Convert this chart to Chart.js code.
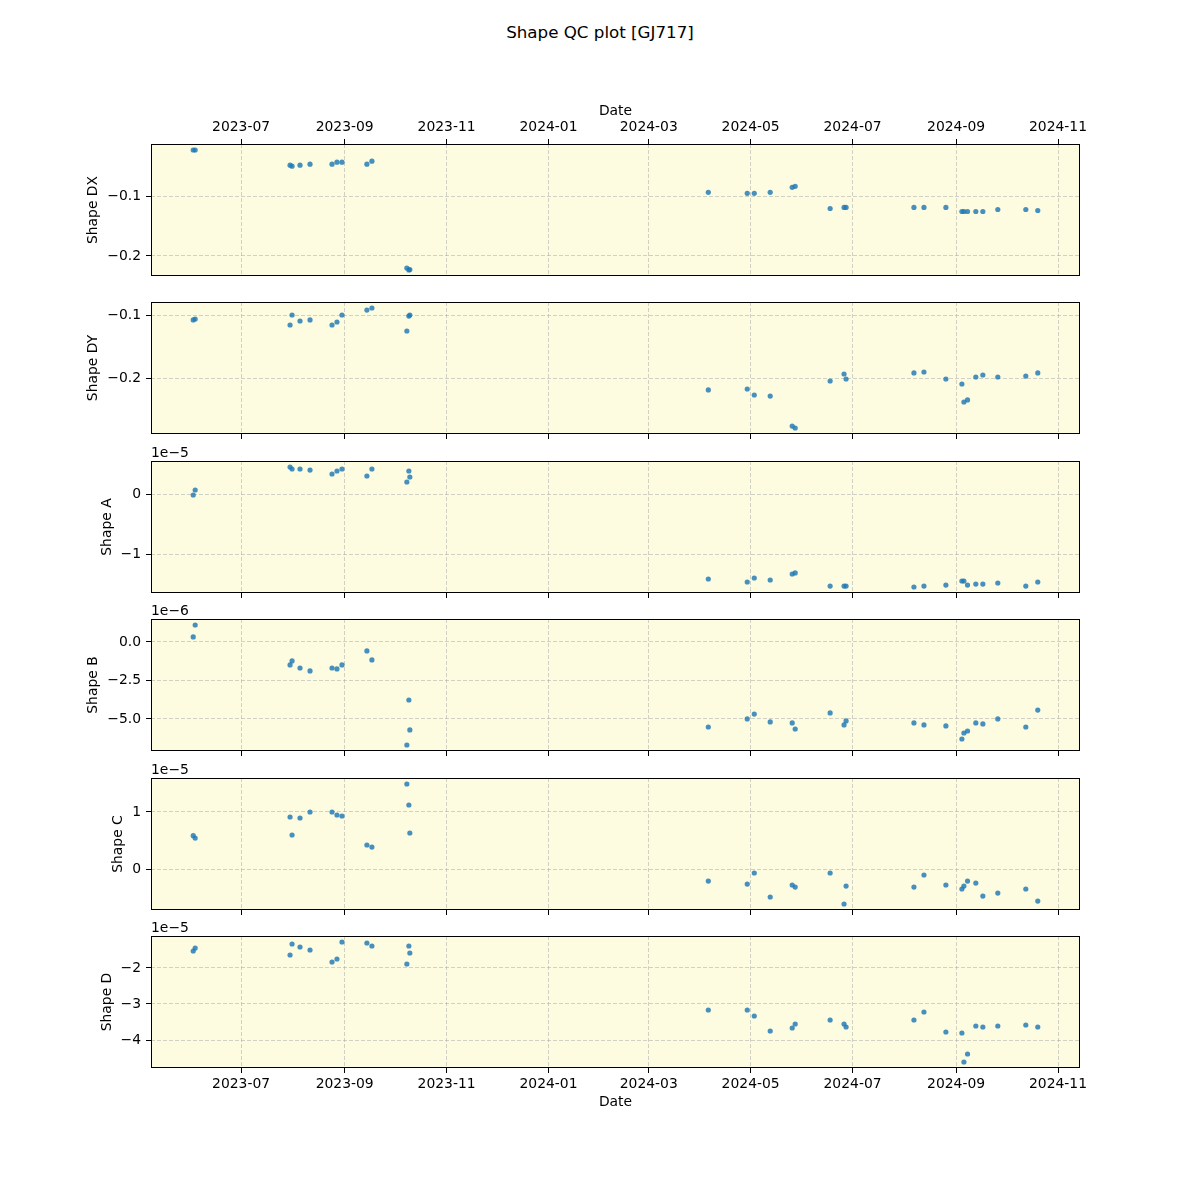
<!DOCTYPE html>
<html>
<head>
<meta charset="utf-8">
<script src="https://cdn.jsdelivr.net/npm/chart.js@4.4.1/dist/chart.umd.min.js"></script>
<style>
  body { margin: 0; background: #fff; }
  #fig { position: relative; width: 1200px; height: 1200px; font-family: 'DejaVu Sans', sans-serif; }
  #title { position: absolute; top: 22px; left: 0; width: 1200px; text-align: center; font-size: 16.7px; color: #000; }
  #fig canvas { position: absolute; left: 0; }
</style>
</head>
<body>
<div id="fig"><div id="title">Shape QC plot [GJ717]</div></div>
<script>
'use strict';

// ── Data ──────────────────────────────────────────────────────
const obsDates = [
  '2023-06-02T08:00', '2023-06-03T12:00', '2023-07-30T07:00', '2023-07-31T12:00',
  '2023-08-05T06:00', '2023-08-11T06:00', '2023-08-24T10:00', '2023-08-27T09:00',
  '2023-08-30T09:00', '2023-09-14T07:00', '2023-09-17T07:00', '2023-10-08T05:00',
  '2023-10-09T10:00', '2023-10-10T00:00',
  '2024-04-05T16:00', '2024-04-28T23:00', '2024-05-03T04:00', '2024-05-12T17:00',
  '2024-05-25T21:00', '2024-05-27T16:00', '2024-06-17T14:00', '2024-06-25T22:00',
  '2024-06-27T03:00', '2024-08-06T18:00', '2024-08-12T18:00', '2024-08-25T21:00',
  '2024-09-04T11:00', '2024-09-05T16:00', '2024-09-07T20:00', '2024-09-12T19:00',
  '2024-09-17T00:00', '2024-09-25T23:00', '2024-10-12T17:00', '2024-10-19T21:00',
];

const shapeDX = [
  -0.0220, -0.0220, -0.0475, -0.0492, -0.0475, -0.0458, -0.0458, -0.0424,
  -0.0424, -0.0458, -0.0407, -0.2203, -0.2237, -0.2230,
  -0.0932, -0.0949, -0.0949, -0.0932, -0.0847, -0.0831, -0.1203, -0.1186,
  -0.1186, -0.1186, -0.1186, -0.1186, -0.1254, -0.1254, -0.1254, -0.1254,
  -0.1254, -0.1220, -0.1220, -0.1237,
];

const shapeDY = [
  -0.1078, -0.1063, -0.1157, -0.1000, -0.1094, -0.1078, -0.1157, -0.1110,
  -0.1000, -0.0922, -0.0890, -0.1251, -0.1016, -0.1000,
  -0.2177, -0.2162, -0.2256, -0.2272, -0.2743, -0.2774, -0.2036, -0.1926,
  -0.2005, -0.1910, -0.1895, -0.2005, -0.2083, -0.2366, -0.2334, -0.1973,
  -0.1942, -0.1973, -0.1958, -0.1910,
];

const shapeA = [
  -0.016e-5, 0.066e-5, 0.445e-5, 0.412e-5, 0.412e-5, 0.395e-5, 0.330e-5, 0.379e-5,
  0.412e-5, 0.297e-5, 0.412e-5, 0.198e-5, 0.379e-5, 0.280e-5,
  -1.400e-5, -1.450e-5, -1.384e-5, -1.417e-5, -1.318e-5, -1.300e-5, -1.516e-5, -1.516e-5,
  -1.516e-5, -1.532e-5, -1.516e-5, -1.500e-5, -1.433e-5, -1.433e-5, -1.500e-5, -1.483e-5,
  -1.483e-5, -1.466e-5, -1.516e-5, -1.450e-5,
];

const shapeB = [
  0.325e-6, 1.10e-6, -1.49e-6, -1.23e-6, -1.69e-6, -1.88e-6, -1.69e-6, -1.75e-6,
  -1.49e-6, -0.58e-6, -1.17e-6, -6.69e-6, -3.77e-6, -5.71e-6,
  -5.52e-6, -5.00e-6, -4.68e-6, -5.19e-6, -5.26e-6, -5.65e-6, -4.61e-6, -5.39e-6,
  -5.13e-6, -5.26e-6, -5.39e-6, -5.45e-6, -6.30e-6, -5.91e-6, -5.78e-6, -5.26e-6,
  -5.32e-6, -5.00e-6, -5.52e-6, -4.42e-6,
];

const shapeC = [
  0.589e-5, 0.549e-5, 0.913e-5, 0.601e-5, 0.896e-5, 1.000e-5, 1.000e-5, 0.948e-5,
  0.931e-5, 0.428e-5, 0.393e-5, 1.485e-5, 1.121e-5, 0.636e-5,
  -0.196e-5, -0.248e-5, -0.057e-5, -0.473e-5, -0.265e-5, -0.300e-5, -0.057e-5, -0.594e-5,
  -0.283e-5, -0.300e-5, -0.092e-5, -0.265e-5, -0.334e-5, -0.283e-5, -0.196e-5, -0.231e-5,
  -0.456e-5, -0.404e-5, -0.334e-5, -0.543e-5,
];

const shapeD = [
  -1.528e-5, -1.444e-5, -1.639e-5, -1.333e-5, -1.417e-5, -1.500e-5, -1.833e-5, -1.750e-5,
  -1.278e-5, -1.306e-5, -1.389e-5, -1.889e-5, -1.389e-5, -1.583e-5,
  -3.167e-5, -3.167e-5, -3.333e-5, -3.750e-5, -3.667e-5, -3.556e-5, -3.444e-5, -3.556e-5,
  -3.639e-5, -3.444e-5, -3.222e-5, -3.778e-5, -3.806e-5, -4.611e-5, -4.389e-5, -3.611e-5,
  -3.639e-5, -3.611e-5, -3.583e-5, -3.639e-5,
];

// tick labels
const xTickLabels = ['2023-07', '2023-09', '2023-11', '2024-01', '2024-03',
                     '2024-05', '2024-07', '2024-09', '2024-11'];
const dxTicks = [-0.2, -0.1];
const dyTicks = [-0.2, -0.1];
const aTicks  = [-1e-5, 0];
const bTicks  = [-5e-6, -2.5e-6, 0];
const cTicks  = [0, 1e-5];
const dTicks  = [-4e-5, -3e-5, -2e-5];

// ── Look ──────────────────────────────────────────────────────
const FONT_PX   = 13.9;
const FONT_CSS  = FONT_PX + "px 'DejaVu Sans', sans-serif";
const PANEL_BG  = 'rgb(253,252,225)';
const GRID_COL  = 'rgba(165,165,165,0.5)';
const DOT_COL   = 'rgba(31,119,180,0.82)';
const AXIS_LEFT = 151;
const AXIS_RIGHT_GAP = 120;
const MARGIN = 60;

Chart.defaults.color       = '#000';
Chart.defaults.font.family = "'DejaVu Sans', sans-serif";
Chart.defaults.font.size   = FONT_PX;

// ── Helpers ───────────────────────────────────────────────────
function padRange(vals) {
  const lo = Math.min(...vals), hi = Math.max(...vals);
  const d = (hi - lo) * 0.05;
  return [lo - d, hi + d];
}

function fmt(v, digits) {
  let s = v.toFixed(digits);
  if (Math.abs(v) < 1e-9) s = (0).toFixed(digits);
  return s.replace('-', '\u2212');
}

const times  = obsDates.map(s => Date.parse(s + ':00Z'));
const xTicks = xTickLabels.map(s => Date.parse(s + '-01T00:00:00Z'));
const [xMin, xMax] = padRange(times);

const panels = [
  { label: 'Shape DX', values: shapeDX, ticks: dxTicks, unit: 1,    digits: 1, offset: '',        top: 144, bottom: 276,  xAxis: 'top' },
  { label: 'Shape DY', values: shapeDY, ticks: dyTicks, unit: 1,    digits: 1, offset: '',        top: 302, bottom: 434,  xAxis: 'marks' },
  { label: 'Shape A',  values: shapeA,  ticks: aTicks,  unit: 1e-5, digits: 0, offset: '1e\u22125', top: 461, bottom: 593,  xAxis: 'marks' },
  { label: 'Shape B',  values: shapeB,  ticks: bTicks,  unit: 1e-6, digits: 1, offset: '1e\u22126', top: 619, bottom: 751,  xAxis: 'marks' },
  { label: 'Shape C',  values: shapeC,  ticks: cTicks,  unit: 1e-5, digits: 0, offset: '1e\u22125', top: 778, bottom: 910,  xAxis: 'marks' },
  { label: 'Shape D',  values: shapeD,  ticks: dTicks,  unit: 1e-5, digits: 0, offset: '1e\u22125', top: 936, bottom: 1068, xAxis: 'bottom' },
];

// background, box, rotated y label and offset text
function makeFrame(p) {
  return {
    id: 'qcFrame',
    beforeDraw(chart) {
      const { ctx, chartArea: a } = chart;
      ctx.save();
      ctx.fillStyle = PANEL_BG;
      ctx.fillRect(a.left, a.top, a.right - a.left, a.bottom - a.top);
      ctx.restore();
    },
    afterDraw(chart) {
      const { ctx, chartArea: a } = chart;
      ctx.save();
      ctx.strokeStyle = '#000';
      ctx.lineWidth = 1;
      ctx.strokeRect(Math.round(a.left) + 0.5, Math.round(a.top) + 0.5,
                     Math.round(a.right - a.left) - 1, Math.round(a.bottom - a.top) - 1);

      ctx.font = FONT_CSS;
      ctx.fillStyle = '#000';
      const ys = chart.scales.y;
      const w = Math.max(...ys.ticks.map(t => ctx.measureText(String(t.label)).width));
      const x = a.left - 5 - 5 - w - 5.5 - 8;
      ctx.save();
      ctx.translate(x, (a.top + a.bottom) / 2);
      ctx.rotate(-Math.PI / 2);
      ctx.textAlign = 'center';
      ctx.textBaseline = 'middle';
      ctx.fillText(p.label, 0, 0);
      ctx.restore();

      if (p.offset) {
        ctx.textAlign = 'left';
        ctx.textBaseline = 'alphabetic';
        ctx.fillText(p.offset, a.left, a.top - 4);
      }
      ctx.restore();
    },
  };
}

// ── Build one scatter chart per panel ─────────────────────────
const fig = document.getElementById('fig');

panels.forEach(p => {
  const canvas = document.createElement('canvas');
  const h = (p.bottom - p.top) + 2 * MARGIN;
  canvas.width = 1200;
  canvas.height = h;
  canvas.style.width = '1200px';
  canvas.style.height = h + 'px';
  canvas.style.top = (p.top - MARGIN) + 'px';
  fig.appendChild(canvas);

  const labelled = p.xAxis !== 'marks';
  const xH = labelled ? 47 : 5;
  const padTop    = p.xAxis === 'top' ? MARGIN - xH : MARGIN;
  const padBottom = p.xAxis === 'top' ? MARGIN : MARGIN - xH;
  const [yMin, yMax] = padRange(p.values);

  new Chart(canvas.getContext('2d'), {
    type: 'scatter',
    data: {
      datasets: [{
        data: times.map((t, i) => ({ x: t, y: p.values[i] })),
        backgroundColor: DOT_COL,
        borderWidth: 0,
        pointRadius: 2.6,
        pointHoverRadius: 2.6,
      }],
    },
    options: {
      responsive: false,
      animation: false,
      events: [],
      layout: { padding: { left: 0, right: AXIS_RIGHT_GAP, top: padTop, bottom: padBottom } },
      plugins: {
        legend:  { display: false },
        tooltip: { enabled: false },
      },
      scales: {
        x: {
          type: 'linear',
          position: p.xAxis === 'top' ? 'top' : 'bottom',
          min: xMin,
          max: xMax,
          afterBuildTicks: s => { s.ticks = xTicks.map(v => ({ value: v })); },
          afterFit: s => { s.height = xH; },
          ticks: {
            display: labelled,
            autoSkip: false,
            maxRotation: 0,
            padding: 3,
            color: '#000',
            callback: v => xTickLabels[xTicks.indexOf(v)],
          },
          title: {
            display: labelled,
            text: 'Date',
            color: '#000',
            padding: p.xAxis === 'top' ? { top: 6, bottom: 4 } : { top: 4, bottom: 4 },
          },
          grid: { color: GRID_COL, lineWidth: 1, tickColor: '#000', tickLength: 5, tickWidth: 1 },
          border: { display: false, dash: [4, 2] },
        },
        y: {
          min: yMin,
          max: yMax,
          afterBuildTicks: s => { s.ticks = p.ticks.map(v => ({ value: v })); },
          afterFit: s => { s.width = AXIS_LEFT; },
          ticks: {
            padding: 5,
            color: '#000',
            callback: v => fmt(v / p.unit, p.digits),
          },
          grid: { color: GRID_COL, lineWidth: 1, tickColor: '#000', tickLength: 5, tickWidth: 1 },
          border: { display: false, dash: [4, 2] },
        },
      },
    },
    plugins: [makeFrame(p)],
  });
});
</script>
</body>
</html>
